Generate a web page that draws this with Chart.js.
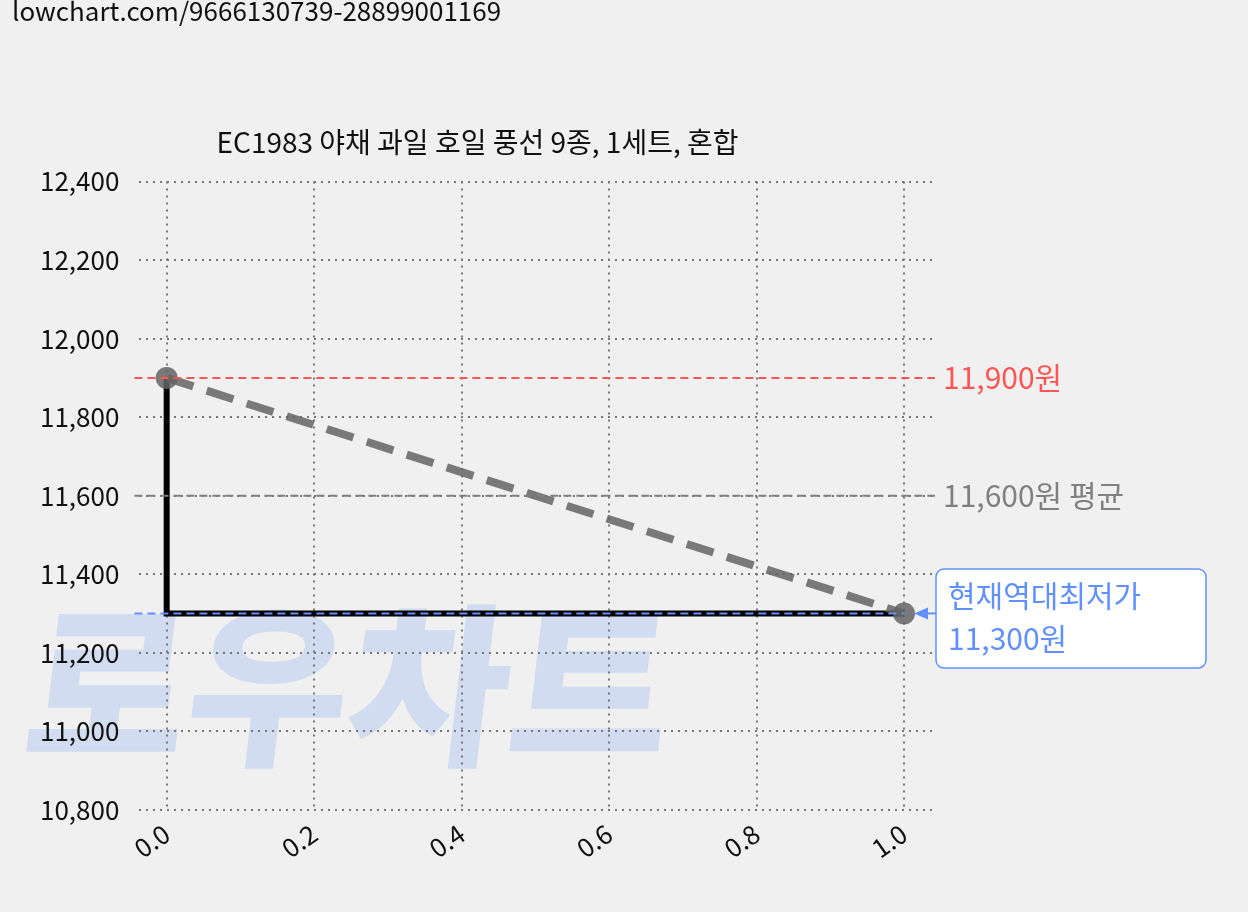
<!DOCTYPE html>
<html><head><meta charset="utf-8">
<script src="https://cdn.jsdelivr.net/npm/chart.js@4/dist/chart.umd.min.js"></script>
<style>html,body{margin:0;background:#f0f0f0;}#w{position:relative;width:1248px;height:912px;}</style>
</head><body><div id="w"><canvas id="c" width="1248" height="912"></canvas></div>
<script>
const xValues=[0,1];
const prices=[11900,11300];
const maxPrice=11900, avgPrice=11600, minPrice=11300;
const xTicks=[0,0.2,0.4,0.6,0.8,1.0];
const yTicks=[10800,11000,11200,11400,11600,11800,12000,12200,12400];
const title='EC1983 야채 과일 호일 풍선 9종, 1세트, 혼합';
const F='"Noto Sans CJK KR","Noto Sans",sans-serif';

const deco={id:'deco',
 beforeDraw(ch){const c=ch.ctx;c.save();c.fillStyle='#f0f0f0';c.fillRect(0,0,ch.width,ch.height);
  c.fillStyle='rgba(180,200,240,0.5)';c.font='900 175px '+F;c.textBaseline='alphabetic';
  c.save();c.translate(0,752);c.transform(1,0,-0.12,1,0,0);c.fillText('로우차트',20,0);c.restore();
  c.fillStyle='#111';c.font='26px '+F;c.textBaseline='top';c.fillText('lowchart.com/9666130739-28899001169',12,-2);
  c.restore();},
 afterDatasetsDraw(ch){const c=ch.ctx,x=ch.scales.x,y=ch.scales.y,a=ch.chartArea;c.save();
  c.lineWidth=2;c.setLineDash([8,5]);
  const hl=(v,col,x0,x1)=>{c.strokeStyle=col;c.beginPath();c.moveTo(x0,y.getPixelForValue(v));c.lineTo(x1,y.getPixelForValue(v));c.stroke();};
  hl(maxPrice,'#ff5555',a.left-5,a.right);hl(avgPrice,'#808080',a.left-5,a.right);
  hl(minPrice,'#6090ff',a.left-5,x.getPixelForValue(1));
  c.setLineDash([]);c.font='30px '+F;c.textBaseline='middle';
  c.fillStyle='#ff5555';c.fillText('11,900원',a.right+8,y.getPixelForValue(maxPrice));
  c.fillStyle='#808080';c.fillText('11,600원 평균',a.right+8,y.getPixelForValue(avgPrice));
  const bx=936,by=569,bw=270,bh=99;c.fillStyle='#fff';c.strokeStyle='#6090ff';c.lineWidth=1.5;
  c.beginPath();c.roundRect(bx,by,bw,bh,8);c.fill();c.stroke();
  c.fillStyle='#6090ff';c.fillText('현재역대최저가',bx+12,by+27);c.fillText('11,300원',bx+12,by+70);
  const py=y.getPixelForValue(minPrice),px=x.getPixelForValue(1)+10;
  c.strokeStyle='#6090ff';c.lineWidth=2;c.beginPath();c.moveTo(bx,py);c.lineTo(px+8,py);c.stroke();
  c.beginPath();c.moveTo(px,py);c.lineTo(px+14,py-6);c.lineTo(px+14,py+6);c.closePath();c.fill();
  c.restore();}
};
Chart.register(deco);
new Chart(document.getElementById('c'),{type:'scatter',
 data:{datasets:[
  {data:xValues.map((v,i)=>({x:v,y:prices[i]})),showLine:true,borderColor:'rgba(100,100,100,0.85)',borderWidth:8,borderDash:[28,14],pointRadius:11,pointBackgroundColor:'rgba(100,100,100,0.85)',pointBorderWidth:0,order:1},
  {data:xValues.map((v,i)=>({x:v,y:prices[i]})),showLine:true,stepped:'after',borderColor:'#000',borderWidth:6,pointRadius:0,order:2}
 ]},
 options:{responsive:false,animation:false,
  layout:{padding:{left:20,right:313,top:0,bottom:40}},
  plugins:{legend:{display:false},tooltip:{enabled:false},
   title:{display:true,text:title,color:'#111',font:{family:F,size:28,weight:'normal'},padding:{top:126,bottom:22}}},
  scales:{
   x:{type:'linear',min:-0.037,max:1.042,afterBuildTicks:s=>{s.ticks=xTicks.map(v=>({value:v}));s.min=-0.037;s.max=1.042;},
    grid:{color:'#777',lineWidth:2,drawTicks:false},border:{display:false,dash:[2,5]},
    ticks:{color:'#111',font:{family:F,size:26},maxRotation:35,minRotation:35,padding:8,callback:v=>v.toFixed(1)}},
   y:{min:10800,max:12400,afterBuildTicks:s=>{s.ticks=yTicks.map(v=>({value:v}));},
    grid:{color:'#777',lineWidth:2,drawTicks:false},border:{display:false,dash:[2,5]},
    ticks:{color:'#111',font:{family:F,size:26},padding:20,callback:v=>v.toLocaleString('en-US')}}
  }}},
 );
</script></body></html>
